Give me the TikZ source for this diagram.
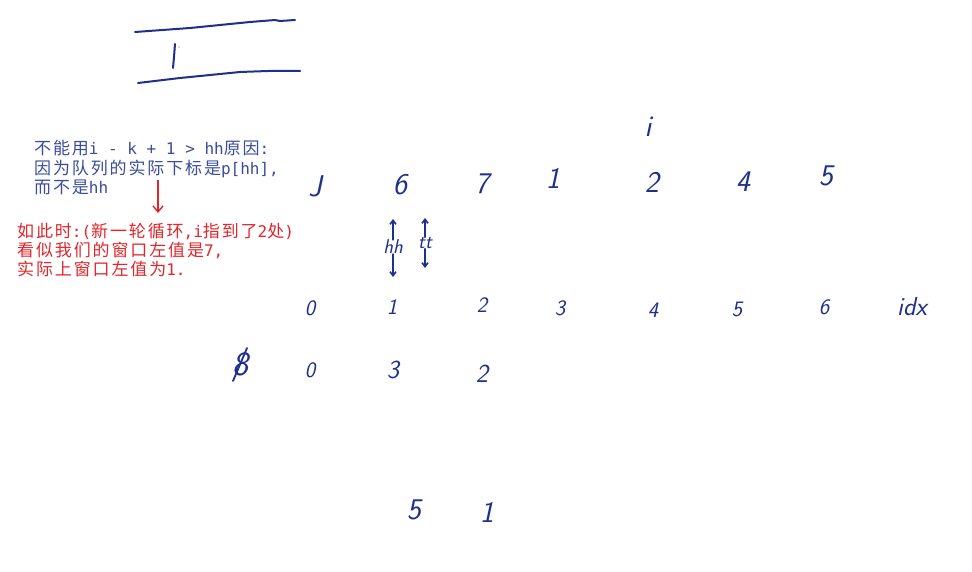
\documentclass[tikz,border=0pt]{standalone}
\usepackage{fontspec}
\newfontfamily\cjk[LetterSpace=11]{Noto Sans CJK SC}
\setmonofont{DejaVu Sans Mono}
\usetikzlibrary{arrows.meta}
\definecolor{ink}{HTML}{1F2F8C}
\definecolor{noteblue}{HTML}{3C4C9C}
\definecolor{notered}{HTML}{E3252B}
\tikzset{
  hand/.style={text=ink, font=\sffamily\itshape\fontsize{30}{30}\selectfont, inner sep=0pt},
  handsmall/.style={text=ink, font=\sffamily\itshape\fontsize{22}{22}\selectfont, inner sep=0pt},
  handmid/.style={text=ink, font=\sffamily\itshape\fontsize{26}{26}\selectfont, inner sep=0pt},
  handlabel/.style={text=ink, font=\sffamily\itshape\fontsize{20}{20}\selectfont, inner sep=0pt},
  stroke/.style={draw=ink, line width=2pt, line cap=round, line join=round},
  harrow/.style={draw=ink, line width=1.6pt, line cap=round, -{Straight Barb[length=4pt,width=6pt]}},
  notebl/.style={text=noteblue, anchor=base west, inner sep=0pt, font=\cjk\fontsize{17}{18}\selectfont},
  notered/.style={text=notered, anchor=base west, inner sep=0pt, font=\cjk\fontsize{17}{18}\selectfont},
}
\newcommand{\mono}[1]{{\ttfamily\fontsize{16}{18}\selectfont #1}}
\begin{document}
\begin{tikzpicture}[x=1pt,y=-1pt]
\useasboundingbox (0,0) rectangle (972,572);
\fill[white] (0,0) rectangle (972,572);
% top box lines
\draw[stroke] (135,32) -- (190,28) -- (250,22) -- (275,20) -- (280,21) -- (295,20);
\draw[stroke] (138,83) -- (180,78) -- (240,72) -- (268,71) -- (300,71);
\draw[stroke] (175,44) -- (174,57) -- (173,68);
\fill[gray!50] (179,47) circle (0.9);
% notes
\node[notebl] (n1) at (34,155) {不能用\mono{i - k + 1 > hh}原因\mono{:}};
\node[notebl] (n2) at (34,175) {因为队列的实际下标是\mono{p[hh],}};
\node[notebl] (n3) at (34,194) {而不是\mono{hh}};
\node[notered] (r1) at (17,237) {如此时\mono{:(}新一轮循环\mono{,i}指到了\mono{2}处\mono{)}};
\node[notered] (r2) at (17,256) {看似我们的窗口左值是\mono{7,}};
\node[notered] (r3) at (17,275) {实际上窗口左值为\mono{1.}};
\coordinate (ra) at (158,180);
\coordinate (rb) at (158,213);
\draw[draw=notered, line width=1.4pt, -{Straight Barb[length=6pt,width=10pt]}] (ra) -- (rb);
% i marker
\node[hand] (i) at (648,127) {i};
% values row
\node[hand] (v0) at (315,186) {J};
\node[hand] (v1) at (400,185) {6};
\node[hand] (v2) at (482,184) {7};
\node[hand] (v3) at (553,178) {1};
\node[hand] (v4) at (652,182) {2};
\node[hand] (v5) at (743,182) {4};
\node[hand] (v6) at (826,176) {5};
% hh / tt
\node[handlabel] (hh) at (393,247) {hh};
\node[handlabel] (tt) at (425,243) {tt};
\coordinate (hhu) at (393,219);
\coordinate (hhd) at (393,277);
\coordinate (ttu) at (425,218);
\coordinate (ttd) at (425,268);
\draw[harrow] (hh.north) -- (hhu);
\draw[harrow] (hh.south) -- (hhd);
\draw[harrow] (tt.north) -- (ttu);
\draw[harrow] (tt.south) -- (ttd);
% idx row
\node[handsmall] (x0) at (310,308) {0};
\node[handsmall] (x1) at (392,307) {1};
\node[handsmall] (x2) at (482,305) {2};
\node[handsmall] (x3) at (560,308) {3};
\node[handsmall] (x4) at (653,310) {4};
\node[handsmall] (x5) at (737,309) {5};
\node[handsmall] (x6) at (824,307) {6};
\node[handmid] (idx) at (912,307) {idx};
% queue row
\node[text=ink, font=\sffamily\itshape\fontsize{34}{34}\selectfont, inner sep=0pt] (q) at (240,364) {8};
\draw[stroke, line width=1.8pt] (247,348) -- (233,381);
\node[handsmall] (q0) at (310,370) {0};
\node[handmid] (q1) at (393,370) {3};
\node[handmid] (q2) at (482,374) {2};
% bottom
\node[hand] (b0) at (414,510) {5};
\node[hand] (b1) at (487,512) {1};
\end{tikzpicture}
\end{document}
